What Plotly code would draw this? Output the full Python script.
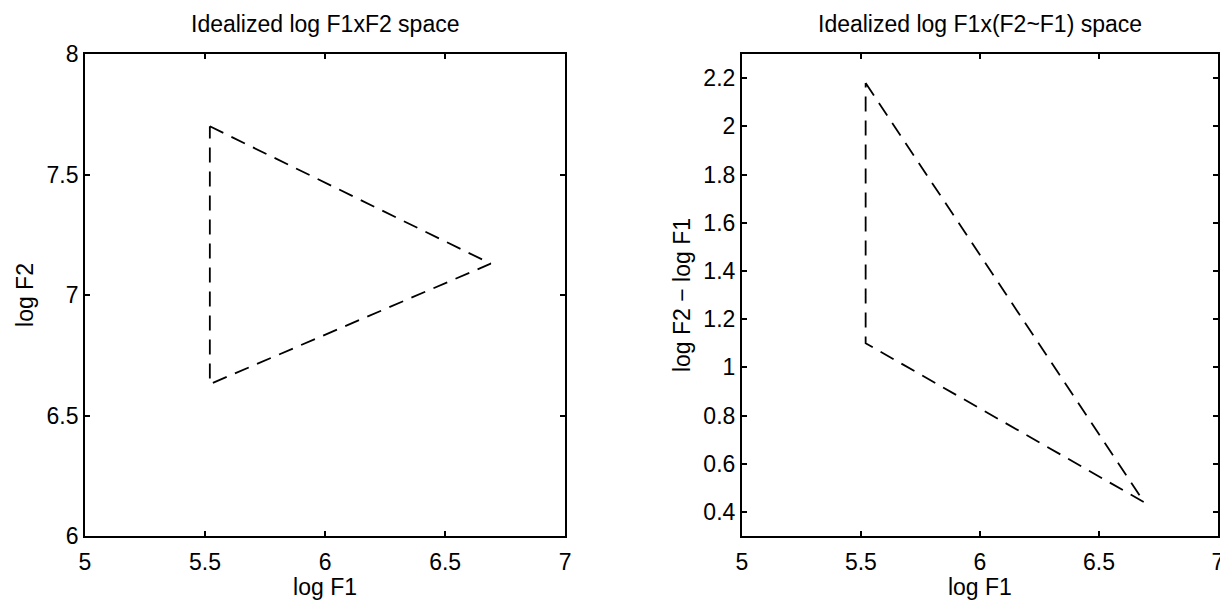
import plotly.graph_objects as go
from plotly.subplots import make_subplots

# Data
left_x = [5.52, 6.69, 5.52, 5.52]
left_y = [7.70, 7.13, 6.63, 7.70]
right_x = [5.52, 6.69, 5.52, 5.52]
right_y = [2.18, 0.44, 1.10, 2.18]

titles = ["Idealized log F1xF2 space", "Idealized log F1x(F2~F1) space"]
x_ticks = [5, 5.5, 6, 6.5, 7]
left_y_ticks = [6, 6.5, 7, 7.5, 8]
right_y_ticks = [0.4, 0.6, 0.8, 1, 1.2, 1.4, 1.6, 1.8, 2, 2.2]

fig = make_subplots(rows=1, cols=2)

line_style = dict(color="black", width=1.8, dash="15px,9px")
fig.add_trace(go.Scatter(x=left_x, y=left_y, mode="lines", line=line_style,
                         showlegend=False), row=1, col=1)
fig.add_trace(go.Scatter(x=right_x, y=right_y, mode="lines", line=line_style,
                         showlegend=False), row=1, col=2)

family = "Liberation Sans, Arial, sans-serif"
font = dict(family=family, size=23, color="black")

axis_common = dict(showline=True, linecolor="black", linewidth=1.8, mirror="ticks",
                   ticks="inside", ticklen=5, tickcolor="black", tickwidth=1.5,
                   showgrid=False, zeroline=False, tickfont=font)

# plot-area width = 1228+8-77-16 = 1143 ; left box 85-566, right box 743-1220
fig.update_xaxes(range=[5, 7], tickvals=x_ticks, domain=[0, 481 / 1135],
                 ticklabelstandoff=4,
                 title=dict(text="log F1", font=font, standoff=4), **axis_common, row=1, col=1)
fig.update_xaxes(range=[5, 7], tickvals=x_ticks, domain=[658 / 1135, 1.0],
                 ticklabelstandoff=4,
                 title=dict(text="log F1", font=font, standoff=4), **axis_common, row=1, col=2)
fig.update_yaxes(range=[6, 8], tickvals=left_y_ticks,
                 title=dict(text="log F2", font=font, standoff=6), **axis_common, row=1, col=1)
fig.update_yaxes(range=[0.3, 2.3], tickvals=right_y_ticks,
                 title=dict(text="log F2 \u2212 log F1", font=font, standoff=6), **axis_common, row=1, col=2)

title_font = dict(family=family, size=23, color="black")
fig.add_annotation(text=titles[0], x=240.5 / 1135, y=1 + 30 / 482, xref="paper", yref="paper",
                   xanchor="center", yanchor="middle", showarrow=False, font=title_font)
fig.add_annotation(text=titles[1], x=(658 + 238.5) / 1135, y=1 + 30 / 482, xref="paper", yref="paper",
                   xanchor="center", yanchor="middle", showarrow=False, font=title_font)

fig.update_layout(width=1228, height=602, margin=dict(l=77, r=16, t=46, b=74),
                  plot_bgcolor="white", paper_bgcolor="white", font=font)

fig.write_html("out.html")
